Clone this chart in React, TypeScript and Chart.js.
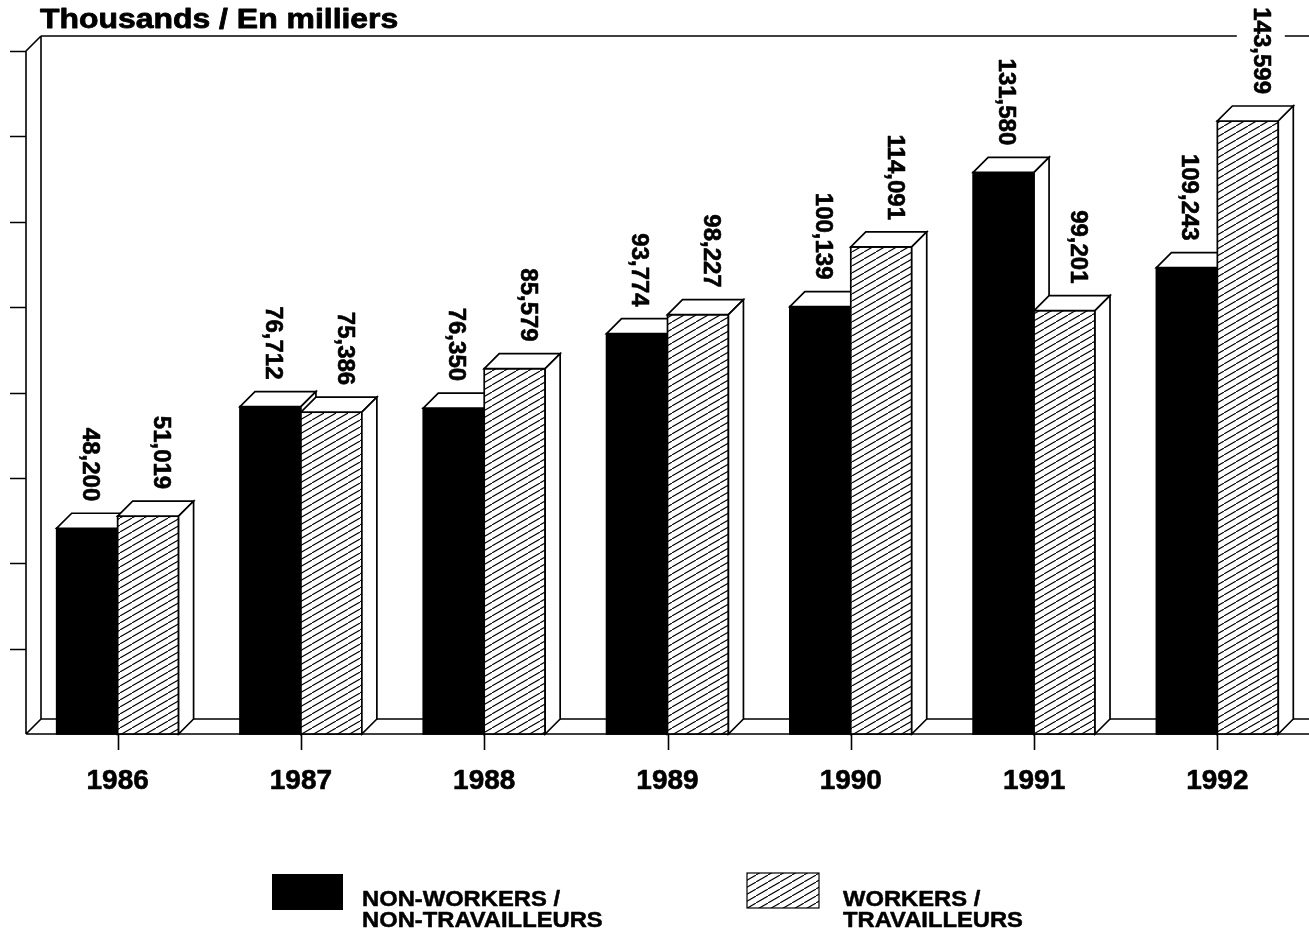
import React, { useEffect, useRef } from "react";
import { Chart, registerables } from "chart.js";

Chart.register(...registerables);

const categories = ["1986", "1987", "1988", "1989", "1990", "1991", "1992"];
const nonWorkers = [48200, 76712, 76350, 93774, 100139, 131580, 109243];
const workers = [51019, 75386, 85579, 98227, 114091, 99201, 143599];
const yTicks = [20000, 40000, 60000, 80000, 100000, 120000, 140000, 160000];
const seriesNames = [
  ["NON-WORKERS /", "NON-TRAVAILLEURS"],
  ["WORKERS /", "TRAVAILLEURS"],
];
const titleText = "Thousands / En milliers";

const FONT = '"Liberation Sans", Arial, Helvetica, sans-serif';
const DEPTH = 15;
const fmt = new Intl.NumberFormat("en-US");

function makeHatch(): CanvasPattern | string {
  const c = document.createElement("canvas");
  c.width = 12;
  c.height = 7;
  const g = c.getContext("2d");
  if (!g) return "#888";
  g.fillStyle = "#fff";
  g.fillRect(0, 0, 12, 7);
  g.strokeStyle = "#000";
  g.lineWidth = 1.1;
  g.beginPath();
  g.moveTo(-12, 14);
  g.lineTo(24, -7);
  g.stroke();
  const p = g.createPattern(c, "repeat");
  return p || "#888";
}

function heavyText(ctx: CanvasRenderingContext2D, txt: string, x: number, y: number, sx: number, stroke: number) {
  ctx.save();
  ctx.translate(x, y);
  ctx.scale(sx, 1);
  ctx.fillText(txt, 0, 0);
  if (stroke > 0) {
    ctx.lineWidth = stroke;
    ctx.strokeStyle = "#000";
    ctx.lineJoin = "round";
    ctx.strokeText(txt, 0, 0);
  }
  ctx.restore();
}

export default function App() {
  const ref = useRef<HTMLCanvasElement | null>(null);

  useEffect(() => {
    document.body.style.margin = "0";
    const canvas = ref.current;
    if (!canvas) return;
    const hatch = makeHatch();

    const threeD = {
      id: "threeD",
      beforeDatasetsDraw(chart: any) {
        const { ctx } = chart;
        const { left, top, bottom } = chart.chartArea;
        const yScale = chart.scales.y;
        const W = chart.width;
        ctx.save();
        ctx.strokeStyle = "#000";
        ctx.lineWidth = 1.6;
        ctx.beginPath();
        ctx.moveTo(left + DEPTH, top - DEPTH);
        ctx.lineTo(W, top - DEPTH);
        ctx.moveTo(left + DEPTH, top - DEPTH);
        ctx.lineTo(left + DEPTH, bottom - DEPTH);
        ctx.moveTo(left + DEPTH, bottom - DEPTH);
        ctx.lineTo(W, bottom - DEPTH);
        ctx.moveTo(left, bottom);
        ctx.lineTo(W, bottom);
        ctx.moveTo(left, top);
        ctx.lineTo(left, bottom);
        ctx.moveTo(left, top);
        ctx.lineTo(left + DEPTH, top - DEPTH);
        ctx.moveTo(left, bottom);
        ctx.lineTo(left + DEPTH, bottom - DEPTH);
        yTicks.forEach((v) => {
          const y = Math.round(yScale.getPixelForValue(v)) + 0.5;
          ctx.moveTo(left - 16, y);
          ctx.lineTo(left, y);
        });
        ctx.stroke();
        ctx.restore();
      },
      afterDatasetsDraw(chart: any) {
        const { ctx } = chart;
        const { top, bottom } = chart.chartArea;
        const xScale = chart.scales.x;
        const metas = [chart.getDatasetMeta(0), chart.getDatasetMeta(1)];
        const fills = [chart.data.datasets[0].backgroundColor, chart.data.datasets[1].backgroundColor];
        const values = [nonWorkers, workers];
        const labelOffsets = [2, 13];

        ctx.save();
        ctx.strokeStyle = "#000";
        ctx.lineWidth = 1.7;
        ctx.lineJoin = "miter";

        categories.forEach((_, i) => {
          metas.forEach((meta, d) => {
            const el = meta.data[i];
            const x0 = el.x - el.width / 2;
            const x1 = el.x + el.width / 2;
            const yT = el.y;
            const yB = el.base;
            ctx.fillStyle = fills[d];
            ctx.fillRect(x0, yT, x1 - x0, yB - yT);
            ctx.strokeRect(x0, yT, x1 - x0, yB - yT);
            ctx.beginPath();
            ctx.moveTo(x0, yT);
            ctx.lineTo(x1, yT);
            ctx.lineTo(x1 + DEPTH, yT - DEPTH);
            ctx.lineTo(x0 + DEPTH, yT - DEPTH);
            ctx.closePath();
            ctx.fillStyle = "#fff";
            ctx.fill();
            ctx.stroke();
            ctx.beginPath();
            ctx.moveTo(x1, yT);
            ctx.lineTo(x1 + DEPTH, yT - DEPTH);
            ctx.lineTo(x1 + DEPTH, yB - DEPTH);
            ctx.lineTo(x1, yB);
            ctx.closePath();
            ctx.fillStyle = "#fff";
            ctx.fill();
            ctx.stroke();
          });
        });

        // value labels (rotated)
        ctx.font = `bold 24px ${FONT}`;
        categories.forEach((_, i) => {
          metas.forEach((meta, d) => {
            const el = meta.data[i];
            const txt = fmt.format(values[d][i]);
            const w = ctx.measureText(txt).width;
            const cx = el.x + labelOffsets[d];
            const yEnd = el.y - DEPTH - 12;
            ctx.fillStyle = "#fff";
            ctx.fillRect(cx - 24, yEnd - w - 2, 48, w + 4);
            ctx.save();
            ctx.translate(cx, yEnd);
            ctx.rotate(Math.PI / 2);
            ctx.fillStyle = "#000";
            ctx.textAlign = "right";
            ctx.textBaseline = "middle";
            heavyText(ctx, txt, 0, 0, 1, 0.6);
            ctx.restore();
          });
        });

        // category ticks + labels
        ctx.lineWidth = 1.6;
        ctx.beginPath();
        categories.forEach((c, i) => {
          const x = Math.round(xScale.getPixelForValue(i)) + 0.5;
          ctx.moveTo(x, bottom);
          ctx.lineTo(x, bottom + 16);
        });
        ctx.stroke();
        ctx.fillStyle = "#000";
        ctx.font = `bold 28px ${FONT}`;
        ctx.textAlign = "center";
        ctx.textBaseline = "alphabetic";
        categories.forEach((c, i) => {
          heavyText(ctx, c, xScale.getPixelForValue(i), 789, 1, 0.6);
        });

        // title
        ctx.textAlign = "left";
        ctx.font = `bold 28px ${FONT}`;
        heavyText(ctx, titleText, 40, top - 23, 1.14, 0.8);

        // legend
        ctx.fillStyle = fills[0];
        ctx.fillRect(272, 874, 71, 36);
        ctx.fillStyle = fills[1];
        ctx.fillRect(747, 873, 72, 35);
        ctx.lineWidth = 1.2;
        ctx.strokeRect(747, 873, 72, 35);
        ctx.fillStyle = "#000";
        ctx.font = `bold 22px ${FONT}`;
        heavyText(ctx, seriesNames[0][0], 362, 906, 1.08, 0.5);
        heavyText(ctx, seriesNames[0][1], 362, 927, 1.08, 0.5);
        heavyText(ctx, seriesNames[1][0], 843, 906, 1.08, 0.5);
        heavyText(ctx, seriesNames[1][1], 843, 927, 1.08, 0.5);

        ctx.restore();
      },
    };

    const chart = new Chart(canvas, {
      type: "bar",
      data: {
        labels: categories,
        datasets: [
          {
            label: seriesNames[0].join(" "),
            data: nonWorkers,
            backgroundColor: "#000",
            borderColor: "#000",
            borderWidth: 1,
            barPercentage: 1,
            categoryPercentage: 0.665,
          },
          {
            label: seriesNames[1].join(" "),
            data: workers,
            backgroundColor: hatch as any,
            borderColor: "#000",
            borderWidth: 1,
            barPercentage: 1,
            categoryPercentage: 0.665,
          },
        ],
      },
      options: {
        responsive: false,
        animation: false,
        devicePixelRatio: 1,
        layout: { padding: { left: 26, right: 0, top: 51, bottom: 208 } },
        scales: {
          x: { display: false },
          y: { display: false, min: 0, max: 160000 },
        },
        plugins: {
          legend: { display: false },
          tooltip: { enabled: false },
          title: { display: false },
        },
      },
      plugins: [threeD],
    });

    return () => chart.destroy();
  }, []);

  return (
    <div style={{ width: 1309, height: 942, background: "#fff" }}>
      <canvas ref={ref} width={1309} height={942} style={{ display: "block" }} />
    </div>
  );
}
